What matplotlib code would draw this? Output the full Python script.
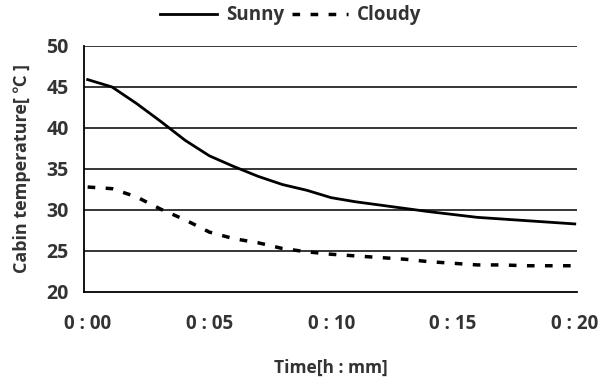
import matplotlib
matplotlib.use("Agg")
import matplotlib.pyplot as plt

plt.rcParams['font.family'] = ['Open Sans', 'Noto Sans CJK KR', 'DejaVu Sans']

# Dados (minutos)
time_min = [0, 1, 2, 3, 4, 5, 6, 7, 8, 9, 10, 11, 12, 13, 14, 15, 16, 17, 18, 19, 20]
sunny = [45.9, 45.0, 43.0, 40.8, 38.5, 36.6, 35.3, 34.1, 33.1, 32.4, 31.5,
         31.0, 30.6, 30.2, 29.8, 29.45, 29.1, 28.9, 28.7, 28.5, 28.3]
cloudy = [32.8, 32.6, 31.6, 30.1, 28.8, 27.3, 26.5, 26.0, 25.3, 24.9, 24.6,
          24.4, 24.2, 24.0, 23.7, 23.5, 23.3, 23.3, 23.2, 23.2, 23.2]
x_ticks = [0, 5, 10, 15, 20]
x_labels = ["0 : 00", "0 : 05", "0 : 10", "0 : 15", "0 : 20"]
y_ticks = [20, 25, 30, 35, 40, 45, 50]

txt = '#333333'

fig = plt.figure(figsize=(6, 3.85), dpi=100)
ax = fig.add_axes([0.14, 0.2416, 0.822, 0.639])

ax.plot(time_min, sunny, color='black', lw=2, label='Sunny')
ax.plot(time_min, cloudy, color='black', lw=2.5, linestyle=(0, (2.2, 3.0)), label='Cloudy')

ax.set_xlim(-0.15, 20.1)
ax.set_ylim(20, 50)
ax.set_yticks(y_ticks)
ax.set_xticks(x_ticks)
ax.set_xticklabels(x_labels)
ax.set_xticks([0, 10, 20], minor=True)

for y in y_ticks[1:]:
    ax.axhline(y, color='black', lw=1.1, zorder=0)

for s in ['top', 'right']:
    ax.spines[s].set_visible(False)
for s in ['left', 'bottom']:
    ax.spines[s].set_color('black')
    ax.spines[s].set_linewidth(1.3)

ax.tick_params(axis='x', which='major', length=0, pad=16, labelsize=13.5)
ax.tick_params(axis='x', which='minor', length=6, direction='in', width=1.1)
ax.tick_params(axis='y', length=0, pad=11, labelsize=14)
for lab in ax.get_xticklabels() + ax.get_yticklabels():
    lab.set_fontweight('bold')
    lab.set_color(txt)

ax.set_xlabel("Time[h : mm]", fontsize=12.5, fontweight='bold', labelpad=18, color=txt)
ax.set_ylabel("Cabin temperature[ ℃ ]", fontsize=13, fontweight='bold', labelpad=11, color=txt)

fig.legend(loc='upper center', bbox_to_anchor=(0.485, 1.03), ncol=2, frameon=False,
           prop={'weight': 'bold', 'size': 13.5}, handlelength=3.0,
           columnspacing=0.4, handletextpad=0.5, labelcolor=txt)

fig.savefig("out.png", dpi=100)
